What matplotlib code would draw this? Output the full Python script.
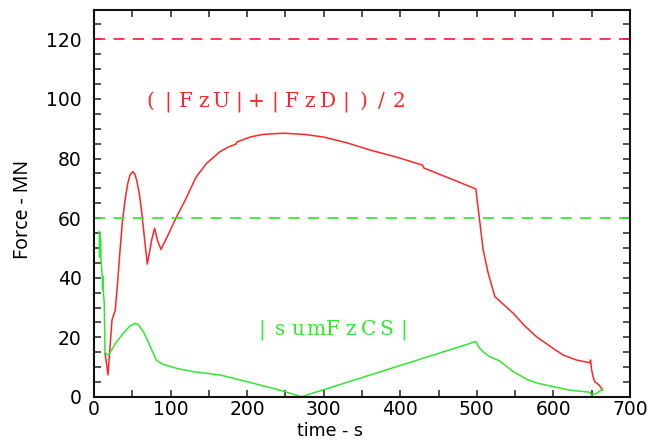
import matplotlib
matplotlib.use("Agg")
import matplotlib.pyplot as plt
from matplotlib.ticker import MultipleLocator

# ---- data ----
red_t = [14.4, 16.5, 18.3, 21.0, 23.5, 27.8, 31.0, 34.0, 37.0, 40.5, 44.0, 47.0, 50.5, 53.0,
         55.7, 59.0, 62.0, 66.6, 69.6, 72.5, 75.3, 79.2, 83.0, 87.5, 97.0, 107.0, 120.0,
         131.8, 134.0, 147.0, 164.5, 175.0, 185.0, 187.0, 205.0, 221.0, 247.0, 275.0, 300.0,
         330.0, 360.0, 395.0, 429.0, 431.0, 465.0, 498.7, 503.0, 508.3, 514.8, 523.5, 535.0,
         547.5, 562.0, 578.0, 599.7, 612.7, 630.0, 647.5, 648.5, 650.0, 651.8, 654.0, 659.8, 664.0]
red_y = [14.7, 11.0, 7.4, 16.9, 25.8, 29.2, 39.0, 49.3, 58.5, 66.0, 71.5, 74.5, 75.6, 75.0,
         72.8, 68.5, 62.8, 51.6, 44.6, 48.5, 52.7, 56.6, 52.5, 49.5, 54.5, 60.0, 66.5,
         73.0, 74.0, 78.4, 82.3, 83.8, 84.8, 85.6, 87.3, 88.1, 88.5, 88.1, 87.2,
         85.3, 82.9, 80.5, 77.8, 76.8, 73.3, 69.8, 60.5, 49.3, 41.5, 33.7, 31.0,
         28.1, 24.0, 20.2, 16.3, 14.1, 12.4, 11.5, 12.4, 9.0, 6.8, 5.1, 4.0, 2.3]

green_t = [6.9, 7.3, 7.7, 8.1, 8.5, 9.0, 10.8, 11.3, 11.7, 12.2, 13.4, 14.4, 19.1, 28.0,
           38.3, 47.0, 53.5, 58.0, 64.4, 70.0, 75.3, 81.8, 90.0, 108.0, 129.6, 164.5, 182.0,
           208.0, 240.0, 271.0, 498.7, 503.0, 508.0, 517.0, 530.0, 547.5, 567.0, 580.0,
           599.7, 621.0, 647.5, 649.6, 656.0, 662.5, 664.5]
green_y = [55.5, 47.0, 55.0, 47.0, 53.0, 46.5, 40.5, 36.0, 40.5, 35.3, 31.4, 14.7, 14.1, 18.0,
           21.4, 23.8, 24.7, 24.3, 21.9, 19.0, 15.8, 12.2, 11.0, 9.6, 8.5, 7.4, 6.3,
           4.6, 2.5, 0.1, 18.6, 16.6, 15.2, 13.5, 12.1, 8.5, 5.7, 4.6,
           3.5, 2.3, 1.6, 0.7, 1.2, 2.3, 2.9]

limit_red = 120
limit_green = 60
label_red = "(|FzU|+|FzD|)/2"
label_green = "|sumFzCS|"
xlabel = "time - s"
ylabel = "Force - MN"

RED = "#ff2626"
GREEN = "#30e830"

fig = plt.figure(figsize=(6.5, 4.41), dpi=100)
ax = fig.add_axes([94 / 650, 1 - 397 / 441, 536 / 650, 387.5 / 441])

ax.plot(red_t, red_y, color=RED, lw=1.1)
ax.plot(green_t, green_y, color=GREEN, lw=1.1)
ax.axhline(limit_red, color=RED, lw=1.25, dashes=(6.4, 4.8))
ax.axhline(limit_green, color=GREEN, lw=1.25, dashes=(6.4, 4.8))

ax.set_xlim(0, 700)
ax.set_ylim(0, 130)
ax.xaxis.set_major_locator(MultipleLocator(100))
ax.xaxis.set_minor_locator(MultipleLocator(50))
ax.yaxis.set_major_locator(MultipleLocator(20))
ax.yaxis.set_minor_locator(MultipleLocator(5))

tickfont = "DejaVu Sans"
labelfont = "Noto Sans"
ax.tick_params(which="both", direction="in", top=True, right=True, color="#333333", width=1.2)
ax.tick_params(which="major", length=5)
ax.tick_params(which="minor", length=5)
ax.tick_params(axis="x", pad=2.5, labelsize=13.5)
ax.tick_params(axis="y", pad=9, labelsize=13.5)
for lab in ax.get_xticklabels() + ax.get_yticklabels():
    lab.set_fontfamily(tickfont)

for s in ax.spines.values():
    s.set_linewidth(1.5)
    s.set_color("#111111")

ax.set_xlabel(xlabel, fontsize=12.5, family="DejaVu Sans")
ax.set_ylabel(ylabel, fontsize=14, family=labelfont)
ax.xaxis.set_label_coords(0.44, -0.0635)
ax.yaxis.set_label_coords(-0.114, 0.483)


def spaced_text(x0, y0, text, color, step_pt=12.8):
    for i, ch in enumerate(text):
        ax.annotate(ch, xy=(x0, y0), xytext=(i * step_pt, 0), textcoords="offset points",
                    ha="center", va="baseline", color=color, fontsize=14.5,
                    family="DejaVu Serif")


spaced_text(73, 97.4, label_red, RED)
spaced_text(219.5, 20.8, label_green, GREEN)

fig.savefig("out.png", dpi=100)
